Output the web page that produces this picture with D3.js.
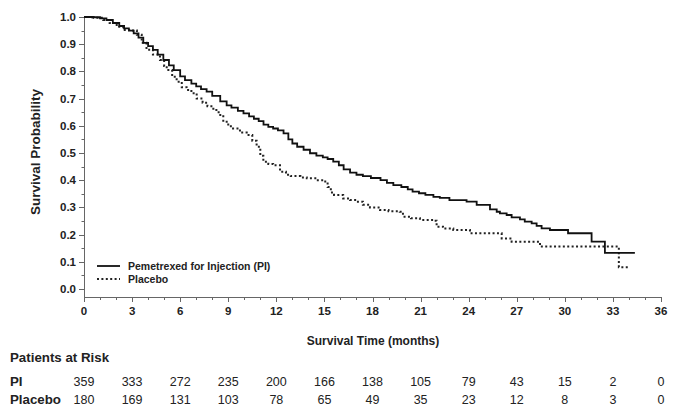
<!DOCTYPE html>
<html><head><meta charset="utf-8">
<script src="https://cdn.jsdelivr.net/npm/d3@7/dist/d3.min.js"></script>
<style>
body{margin:0;background:#fff;}
text{font-family:"Liberation Sans",Arial,sans-serif;}
</style></head>
<body><svg id="c" width="681" height="409"></svg>
<script>
const piTimes = [0,0.5,1.0,1.4,1.8,2.2,2.5,2.8,3.1,3.4,3.7,4.0,4.3,4.6,4.95,5.3,5.6,6.0,6.3,6.7,7.0,7.3,7.65,8.0,8.5,8.9,9.2,9.6,9.95,10.3,10.6,10.9,11.2,11.5,11.8,12.1,12.45,12.75,13.0,13.3,13.7,14.1,14.5,14.9,15.2,15.55,15.9,16.2,16.6,17.0,17.4,17.9,18.5,18.9,19.3,19.8,20.2,20.5,20.9,21.3,21.8,22.2,22.8,23.87,24.5,25.33,25.75,25.95,26.37,26.68,27.2,27.5,27.93,28.24,28.55,29.07,30.2,31.67,32.5,34.37];
const piSurv  = [1.0,0.999,0.995,0.989,0.978,0.967,0.958,0.95,0.94,0.924,0.905,0.893,0.879,0.862,0.842,0.822,0.805,0.782,0.768,0.755,0.745,0.735,0.726,0.71,0.69,0.675,0.667,0.655,0.646,0.635,0.626,0.617,0.604,0.596,0.59,0.583,0.572,0.55,0.535,0.523,0.512,0.499,0.49,0.484,0.478,0.468,0.455,0.44,0.428,0.42,0.415,0.408,0.4,0.39,0.382,0.375,0.366,0.358,0.352,0.346,0.339,0.335,0.327,0.321,0.309,0.293,0.284,0.278,0.272,0.263,0.256,0.248,0.241,0.232,0.223,0.217,0.205,0.174,0.133,0.133];
const plTimes = [0,0.6,1.2,1.6,2.04,2.45,2.9,3.3,3.6,3.9,4.3,4.74,5.0,5.16,5.5,5.78,6.1,6.4,6.7,7.03,7.4,7.7,8.07,8.4,8.69,9.0,9.3,9.73,10.15,10.5,10.77,11.0,11.19,11.5,11.8,12.23,12.6,12.9,13.5,13.9,14.5,14.93,15.2,15.4,15.6,16.17,16.6,17.0,17.4,17.84,18.47,19.0,19.7,19.9,20.4,20.96,21.8,22.0,22.4,23.04,24.08,26.06,26.68,28.45,33.37,33.96];
const plSurv  = [1.0,0.997,0.989,0.978,0.964,0.952,0.95,0.935,0.905,0.88,0.862,0.842,0.82,0.805,0.78,0.762,0.742,0.732,0.72,0.70,0.685,0.672,0.658,0.64,0.615,0.598,0.59,0.575,0.566,0.545,0.523,0.49,0.468,0.46,0.455,0.431,0.42,0.415,0.41,0.407,0.4,0.395,0.375,0.355,0.346,0.333,0.327,0.321,0.31,0.30,0.29,0.286,0.284,0.266,0.26,0.254,0.251,0.229,0.222,0.217,0.205,0.186,0.174,0.156,0.08,0.08];
const xTicks = [0,3,6,9,12,15,18,21,24,27,30,33,36];
const yTicks = [0,0.1,0.2,0.3,0.4,0.5,0.6,0.7,0.8,0.9,1.0];
const riskPI = [359,333,272,235,200,166,138,105,79,43,15,2,0];
const riskPlacebo = [180,169,131,103,78,65,49,35,23,12,8,3,0];
const seriesNames = ["Pemetrexed for Injection (PI)","Placebo"];

const svg = d3.select("#c");
const x = d3.scaleLinear().domain([0,36]).range([84,661]);
const y = d3.scaleLinear().domain([0,1]).range([289,17]);
const axisY = 297;
const axisColor = "#666";

// y axis
svg.append("line").attr("x1",84.5).attr("x2",84.5).attr("y1",y(1)).attr("y2",axisY).attr("stroke",axisColor).attr("stroke-width",1);
const yMinor = d3.range(0,1.0001,0.05);
svg.selectAll(".ymin").data(yMinor).join("line")
  .attr("x1",84.5).attr("x2",d=> (Math.round(d*20)%2===0)?79:81.5)
  .attr("y1",d=>Math.round(y(d))+0.5).attr("y2",d=>Math.round(y(d))+0.5)
  .attr("stroke",axisColor);
svg.selectAll(".ylab").data(yTicks).join("text")
  .attr("x",76).attr("y",d=>y(d)+4).attr("text-anchor","end")
  .attr("font-size",11.5).attr("font-weight","bold").attr("fill","#222")
  .text(d=>d.toFixed(1));

// x axis
svg.append("line").attr("x1",84).attr("x2",661).attr("y1",axisY+0.5).attr("y2",axisY+0.5).attr("stroke",axisColor);
const xMinor = d3.range(0,37,1);
svg.selectAll(".xmin").data(xMinor).join("line")
  .attr("x1",d=>Math.round(x(d))+0.5).attr("x2",d=>Math.round(x(d))+0.5)
  .attr("y1",axisY).attr("y2",d=> d%3===0? axisY+5 : axisY+3)
  .attr("stroke",axisColor);
svg.selectAll(".xlab").data(xTicks).join("text")
  .attr("x",d=>x(d)).attr("y",315).attr("text-anchor","middle")
  .attr("font-size",11.5).attr("font-weight","bold").attr("fill","#222")
  .text(d=>d);

// titles
svg.append("text").attr("transform","translate(40,152) rotate(-90)").attr("text-anchor","middle")
  .attr("font-size",13.5).attr("font-weight","bold").attr("fill","#222").text("Survival Probability");
svg.append("text").attr("x",373).attr("y",345).attr("text-anchor","middle")
  .attr("font-size",12).attr("font-weight","bold").attr("fill","#222").text("Survival Time (months)");

// curves
const line = d3.line().x(d=>x(d[0])).y(d=>y(d[1])).curve(d3.curveStepAfter);
const piData = piTimes.map((t,i)=>[t,piSurv[i]]);
const plData = plTimes.map((t,i)=>[t,plSurv[i]]);
svg.append("path").attr("d",line(plData)).attr("fill","none").attr("stroke","#222")
  .attr("stroke-width",2).attr("stroke-dasharray","2,2.4");
svg.append("path").attr("d",line(piData)).attr("fill","none").attr("stroke","#111")
  .attr("stroke-width",1.8);

// legend
svg.append("line").attr("x1",97).attr("x2",120).attr("y1",266).attr("y2",266).attr("stroke","#111").attr("stroke-width",1.8);
svg.append("line").attr("x1",97).attr("x2",120).attr("y1",279).attr("y2",279).attr("stroke","#222").attr("stroke-width",2).attr("stroke-dasharray","2,2.4");
svg.append("text").attr("x",128).attr("y",270).attr("font-size",10.5).attr("font-weight","bold").attr("fill","#222").text(seriesNames[0]);
svg.append("text").attr("x",128).attr("y",283).attr("font-size",10.5).attr("font-weight","bold").attr("fill","#222").text(seriesNames[1]);

// risk table
svg.append("text").attr("x",10).attr("y",362).attr("font-size",13.3).attr("font-weight","bold").attr("fill","#222").text("Patients at Risk");
svg.append("text").attr("x",10).attr("y",386).attr("font-size",13.3).attr("font-weight","bold").attr("fill","#222").text("PI");
svg.append("text").attr("x",10).attr("y",404).attr("font-size",13.3).attr("font-weight","bold").attr("fill","#222").text("Placebo");
svg.selectAll(".r1").data(riskPI).join("text").attr("x",(d,i)=>x(xTicks[i])).attr("y",386)
  .attr("text-anchor","middle").attr("font-size",12.5).attr("fill","#222").text(d=>d);
svg.selectAll(".r2").data(riskPlacebo).join("text").attr("x",(d,i)=>x(xTicks[i])).attr("y",404)
  .attr("text-anchor","middle").attr("font-size",12.5).attr("fill","#222").text(d=>d);
</script></body></html>
